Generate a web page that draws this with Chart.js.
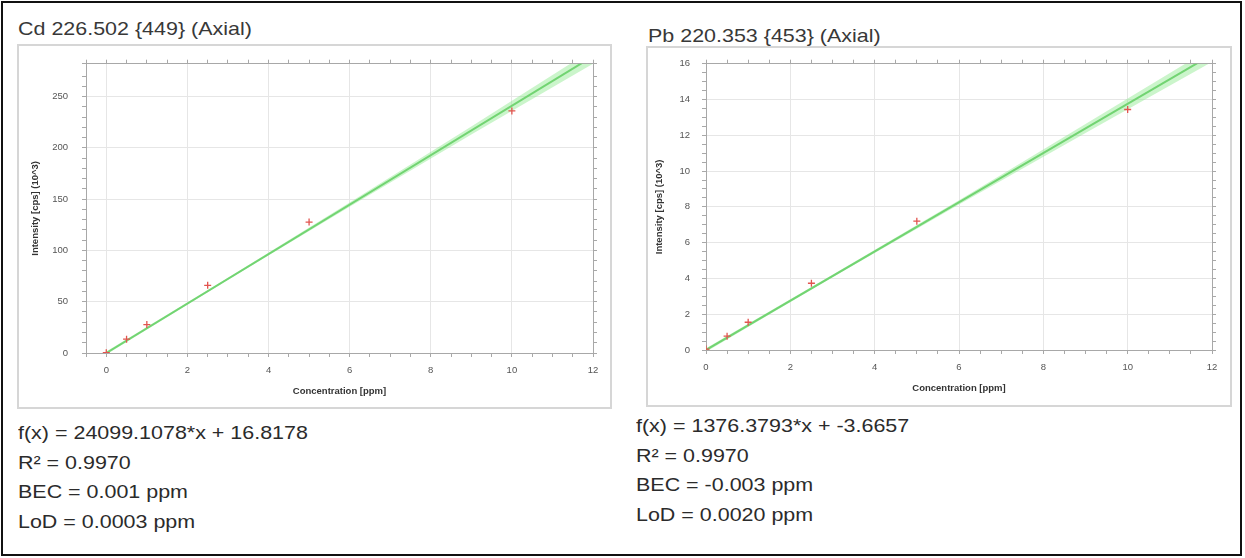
<!DOCTYPE html>
<html>
<head>
<meta charset="utf-8">
<script src="https://cdn.jsdelivr.net/npm/chart.js@4.4.1/dist/chart.umd.min.js"></script>
<style>
  html, body { margin: 0; padding: 0; background: #fff; }
  body { width: 1245px; height: 558px; position: relative; overflow: hidden; font-family: "Liberation Sans", Arial, sans-serif; }
  .frame { position: absolute; left: 1px; top: 1px; width: 1237px; height: 551px; border: 2px solid #111; }
  .title, .stats { position: absolute; color: #383838; font-size: 18.5px; white-space: nowrap; transform: scaleX(1.16); transform-origin: left top; }
  .stats { color: #2b2b2b; line-height: 29.7px; }
  .box { position: absolute; border: 2px solid #d6d6d6; box-sizing: border-box; background: #fff; }
  canvas { position: absolute; }
</style>
</head>
<body>
<div class="frame"></div>

<div class="title" style="left:18px; top:18px;">Cd 226.502 {449} (Axial)</div>
<div class="box" style="left:17px; top:44px; width:595px; height:365px;"></div>
<canvas id="cdChart" width="595" height="365" style="left:17px; top:44px;"></canvas>
<div class="stats" style="left:18px; top:418px;">
  <div>f(x) = 24099.1078*x + 16.8178</div>
  <div>R² = 0.9970</div>
  <div>BEC = 0.001 ppm</div>
  <div>LoD = 0.0003 ppm</div>
</div>

<div class="title" style="left:648px; top:25px;">Pb 220.353 {453} (Axial)</div>
<div class="box" style="left:646px; top:46px; width:586px; height:361px;"></div>
<canvas id="pbChart" width="586" height="361" style="left:646px; top:46px;"></canvas>
<div class="stats" style="left:636px; top:411px;">
  <div>f(x) = 1376.3793*x + -3.6657</div>
  <div>R² = 0.9970</div>
  <div>BEC = -0.003 ppm</div>
  <div>LoD = 0.0020 ppm</div>
</div>

<script>
// calibration standards, ppm
const concentrations = [0, 0.5, 1, 2.5, 5, 10];

// measured intensities, cps (10^3)
const cdIntensity = [0.3, 13.5, 27.7, 66, 127.6, 236];
const pbIntensity = [0.05, 0.77, 1.55, 3.73, 7.2, 13.44];

// regression line ends
const fitX = [0, 12];
const cdFitY = [0.02, 289.2];
const pbFitY = [0.0, 16.51];

// confidence band
const bandX = [0, 3, 6, 9, 12];
const cdBandHigh = [1.5, 73.3, 146.6, 220.9, 296];
const cdBandLow = [-1.5, 71.3, 142.6, 212.9, 282];
const pbBandHigh = [0.1, 4.2, 8.37, 12.63, 16.9];
const pbBandLow = [-0.1, 4.06, 8.13, 12.13, 16.1];

// tick labels
const xTickLabels = [0, 2, 4, 6, 8, 10, 12];
const cdTickLabels = [0, 50, 100, 150, 200, 250];
const pbTickLabels = [0, 2, 4, 6, 8, 10, 12, 14, 16];

const FONT = "'Liberation Sans', Arial, sans-serif";
const axisColor = "#a8a8a8";
const gridColor = "#e6e6e6";
const labelColor = "#555";

const toPoints = (xs, ys) => xs.map((x, i) => ({ x, y: ys[i] }));

function buildChart(canvasId, cfg) {
  const { values, fitY, bandHigh, bandLow, xMin, yMax, yStep, yLabels, frame } = cfg;
  const tickFont = { family: FONT, size: 9.5 };
  const titleFont = { family: FONT, size: 9.5, weight: "bold" };

  return new Chart(document.getElementById(canvasId), {
    type: "scatter",
    data: {
      datasets: [
        {
          data: toPoints(concentrations, values),
          pointStyle: "cross",
          pointRadius: 3.5,
          borderColor: "#e2544f",
          borderWidth: 1.3,
          order: 0,
        },
        {
          data: toPoints(fitX, fitY),
          showLine: true,
          borderColor: "#72d472",
          borderWidth: 2,
          pointRadius: 0,
          order: 1,
        },
        {
          data: toPoints(bandX, bandHigh),
          showLine: true,
          borderWidth: 0,
          pointRadius: 0,
          fill: "+1",
          backgroundColor: "rgba(140, 232, 140, 0.45)",
          order: 2,
        },
        {
          data: toPoints(bandX, bandLow),
          showLine: true,
          borderWidth: 0,
          pointRadius: 0,
          order: 3,
        },
      ],
    },
    options: {
      responsive: false,
      animation: false,
      layout: { padding: 0 },
      plugins: { legend: { display: false }, tooltip: { enabled: false } },
      scales: {
        x: {
          type: "linear", position: "bottom", min: xMin, max: 12,
          afterFit: (s) => { s.height = frame.bottom; },
          border: { color: axisColor },
          grid: {
            color: (ctx) => (ctx.tick && xTickLabels.includes(ctx.tick.value) ? gridColor : "rgba(0,0,0,0)"),
            tickColor: axisColor, tickLength: 4,
          },
          ticks: {
            stepSize: 0.5, autoSkip: false, maxRotation: 0, padding: 8, color: labelColor, font: tickFont,
            callback: (v) => (xTickLabels.includes(v) ? String(v) : ""),
          },
          title: { display: true, text: "Concentration [ppm]", color: "#333", font: titleFont, padding: { top: 0, bottom: cfg.xTitlePad } },
        },
        x2: {
          type: "linear", position: "top", min: xMin, max: 12,
          afterFit: (s) => { s.height = frame.top; },
          border: { color: axisColor },
          grid: { drawOnChartArea: false, tickColor: axisColor, tickLength: 4 },
          ticks: { display: false, stepSize: 0.5, autoSkip: false },
        },
        y: {
          type: "linear", position: "left", min: 0, max: yMax,
          afterFit: (s) => { s.width = frame.left; },
          border: { color: axisColor },
          grid: {
            color: (ctx) => (ctx.tick && yLabels.includes(ctx.tick.value) ? gridColor : "rgba(0,0,0,0)"),
            tickColor: axisColor, tickLength: 4,
          },
          ticks: {
            stepSize: yStep, autoSkip: false, padding: cfg.yTickPad, color: labelColor, font: tickFont,
            callback: (v) => (yLabels.includes(v) ? String(v) : ""),
          },
          title: { display: true, text: "Intensity [cps] (10^3)", color: "#333", font: titleFont, padding: { top: cfg.yTitlePad, bottom: 0 } },
        },
        y2: {
          type: "linear", position: "right", min: 0, max: yMax,
          afterFit: (s) => { s.width = frame.right; },
          border: { color: axisColor },
          grid: { drawOnChartArea: false, tickColor: axisColor, tickLength: 4 },
          ticks: { display: false, stepSize: yStep, autoSkip: false },
        },
      },
    },
  });
}

buildChart("cdChart", {
  values: cdIntensity, fitY: cdFitY, bandHigh: cdBandHigh, bandLow: cdBandLow,
  xMin: -0.5, yMax: 282, yStep: 10, yLabels: cdTickLabels,
  frame: { left: 69, right: 19, top: 10, bottom: 56 },
  yTickPad: 14, yTitlePad: 13, xTitlePad: 12,
});

buildChart("pbChart", {
  values: pbIntensity, fitY: pbFitY, bandHigh: pbBandHigh, bandLow: pbBandLow,
  xMin: 0, yMax: 16, yStep: 0.5, yLabels: pbTickLabels,
  frame: { left: 60, right: 20, top: 10, bottom: 57 },
  yTickPad: 12, yTitlePad: 8, xTitlePad: 13,
});
</script>
</body>
</html>
